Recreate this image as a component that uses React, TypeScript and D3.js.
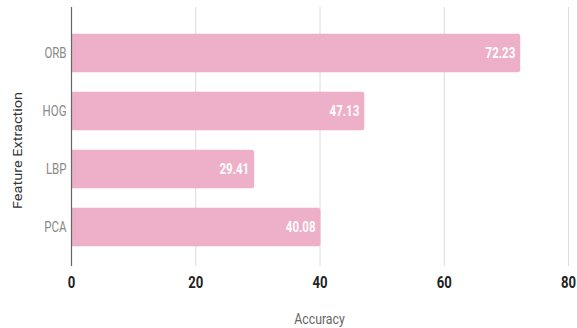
import React from "react";
import * as d3 from "d3";

const categories = ["ORB", "HOG", "LBP", "PCA"];
const values = [72.23, 47.13, 29.41, 40.08];
const xTicks = [0, 20, 40, 60, 80];

const W = 577;
const H = 328;
const SX = 0.82;

export default function App() {
  const x = d3.scaleLinear().domain([0, 80]).range([71.5, 568.5]);
  const y = d3
    .scaleBand<string>()
    .domain(categories)
    .range([24, 256])
    .paddingInner(0.34)
    .paddingOuter(0.17);
  const font = "Roboto, 'Noto Sans', sans-serif";
  const r = 2.5;
  const barPath = (v: number, c: string) => {
    const x0 = x(0);
    const x1 = x(v);
    const y0 = y(c)!;
    const h = y.bandwidth();
    return `M${x0},${y0}H${x1 - r}Q${x1},${y0} ${x1},${y0 + r}V${y0 + h - r}Q${x1},${y0 + h} ${x1 - r},${y0 + h}H${x0}Z`;
  };
  return (
    <div style={{ position: "fixed", left: 0, top: 0 }}>
      <svg width={W} height={H} style={{ display: "block", background: "#fff" }}>
        {xTicks.map((t) => (
          <line key={"g" + t} x1={x(t)} x2={x(t)} y1={7} y2={266} stroke="#dcdcdc" strokeWidth={1} />
        ))}
        {categories.map((c, i) => (
          <g key={c}>
            <path d={barPath(values[i], c)} fill="#edb0c8" />
            <text
              transform={`translate(${x(values[i]) - 5},${y(c)! + y.bandwidth() / 2}) scale(${SX},1)`}
              dy="0.35em"
              textAnchor="end"
              fill="#ffffff"
              fontFamily={font}
              fontWeight={700}
              fontSize={14}
            >
              {values[i].toFixed(2)}
            </text>
            <text
              transform={`translate(66.5,${y(c)! + y.bandwidth() / 2}) scale(${SX},1)`}
              dy="0.35em"
              textAnchor="end"
              fill="#888"
              fontFamily={font}
              fontSize={14}
            >
              {c}
            </text>
          </g>
        ))}
        <line x1={x(0)} x2={x(0)} y1={7} y2={266} stroke="#666" strokeWidth={1.2} />
        {xTicks.map((t) => (
          <text
            key={"t" + t}
            transform={`translate(${x(t)},282) scale(${SX},1)`}
            dy="0.35em"
            textAnchor="middle"
            fill="#222"
            fontFamily={font}
            fontWeight={700}
            fontSize={16}
          >
            {t}
          </text>
        ))}
        <text
          transform={`translate(319.5,319) scale(${SX},1)`}
          dy="0.35em"
          textAnchor="middle"
          fill="#666"
          fontFamily={font}
          fontSize={15}
        >
          Accuracy
        </text>
        <text
          transform={`translate(18,150.5) scale(${SX},1) rotate(-90)`}
          dy="0.35em"
          textAnchor="middle"
          fill="#333"
          fontFamily={font}
          fontSize={14.5}
        >
          Feature Extraction
        </text>
      </svg>
    </div>
  );
}
